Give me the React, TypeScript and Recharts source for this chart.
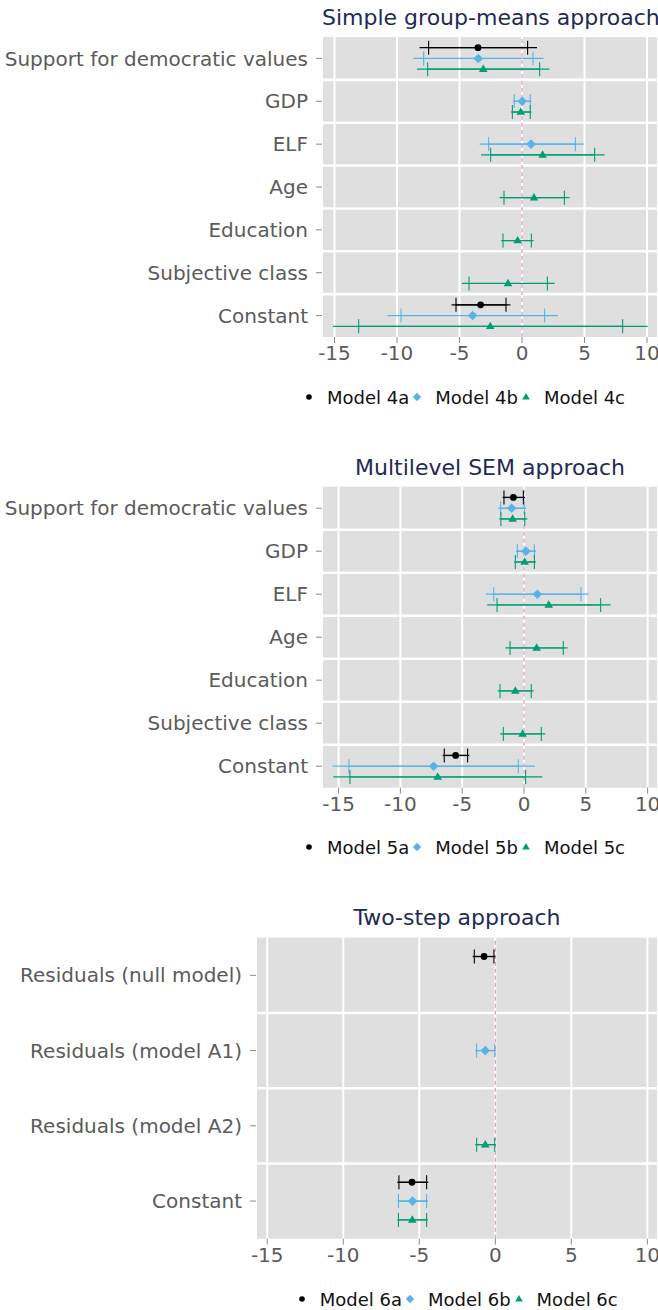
import React from "react";
import { ScatterChart, Scatter, XAxis, YAxis, CartesianGrid, ReferenceLine, ErrorBar, Legend } from "recharts";

const FONT = "'DejaVu Sans', sans-serif";
const TEXT = "#5b5b5b";
const TITLE = "#1f2a55";

const BLACK = "#000000";
const BLUE = "#56B4E9";
const GREEN = "#009E73";

const xTicks = [-15, -10, -5, 0, 5, 10];

// estimate with inner (ticked) and outer interval
type Est = { term: string; est: number; lo90: number; hi90: number; lo95: number; hi95: number };

const groupTerms = [
  "Support for democratic values",
  "GDP",
  "ELF",
  "Age",
  "Education",
  "Subjective class",
  "Constant",
];

const model4a: Est[] = [
  { term: "Support for democratic values", est: -3.52, lo90: -7.47, hi90: 0.45, lo95: -8.2, hi95: 1.2 },
  { term: "Constant", est: -3.31, lo90: -5.28, hi90: -1.28, lo95: -5.63, hi95: -0.93 },
];
const model4b: Est[] = [
  { term: "Support for democratic values", est: -3.5, lo90: -7.87, hi90: 0.88, lo95: -8.67, hi95: 1.73 },
  { term: "GDP", est: 0.02, lo90: -0.62, hi90: 0.66, lo95: -0.72, hi95: 0.74 },
  { term: "ELF", est: 0.72, lo90: -2.67, hi90: 4.27, lo95: -3.39, hi95: 4.93 },
  { term: "Constant", est: -3.95, lo90: -9.68, hi90: 1.81, lo95: -10.78, hi95: 2.88 },
];
const model4c: Est[] = [
  { term: "Support for democratic values", est: -3.1, lo90: -7.55, hi90: 1.41, lo95: -8.4, hi95: 2.2 },
  { term: "GDP", est: -0.1, lo90: -0.77, hi90: 0.66, lo95: -0.88, hi95: 0.77 },
  { term: "ELF", est: 1.65, lo90: -2.51, hi90: 5.81, lo95: -3.28, hi95: 6.61 },
  { term: "Age", est: 0.96, lo90: -1.44, hi90: 3.39, lo95: -1.81, hi95: 3.81 },
  { term: "Education", est: -0.35, lo90: -1.52, hi90: 0.75, lo95: -1.66, hi95: 0.93 },
  { term: "Subjective class", est: -1.12, lo90: -4.24, hi90: 2.03, lo95: -4.8, hi95: 2.61 },
  { term: "Constant", est: -2.54, lo90: -13.07, hi90: 8.05, lo95: -15.12, hi95: 10.05 },
];

const model5a: Est[] = [
  { term: "Support for democratic values", est: -0.86, lo90: -1.62, hi90: -0.05, lo95: -1.73, hi95: 0.08 },
  { term: "Constant", est: -5.53, lo90: -6.45, hi90: -4.56, lo95: -6.58, hi95: -4.42 },
];
const model5b: Est[] = [
  { term: "Support for democratic values", est: -1.0, lo90: -1.89, hi90: 0.03, lo95: -2.08, hi95: 0.16 },
  { term: "GDP", est: 0.16, lo90: -0.54, hi90: 0.84, lo95: -0.65, hi95: 0.97 },
  { term: "ELF", est: 1.08, lo90: -2.45, hi90: 4.61, lo95: -3.07, hi95: 5.23 },
  { term: "Constant", est: -7.31, lo90: -14.16, hi90: -0.46, lo95: -15.48, hi95: 0.89 },
];
const model5c: Est[] = [
  { term: "Support for democratic values", est: -0.92, lo90: -1.87, hi90: 0.06, lo95: -2.0, hi95: 0.27 },
  { term: "GDP", est: 0.05, lo90: -0.7, hi90: 0.84, lo95: -0.81, hi95: 0.97 },
  { term: "ELF", est: 2.0, lo90: -2.18, hi90: 6.2, lo95: -2.97, hi95: 7.01 },
  { term: "Age", est: 1.02, lo90: -1.13, hi90: 3.18, lo95: -1.51, hi95: 3.53 },
  { term: "Education", est: -0.7, lo90: -1.94, hi90: 0.59, lo95: -2.13, hi95: 0.78 },
  { term: "Subjective class", est: -0.11, lo90: -1.67, hi90: 1.4, lo95: -1.94, hi95: 1.73 },
  { term: "Constant", est: -6.98, lo90: -14.08, hi90: 0.13, lo95: -15.43, hi95: 1.48 },
];

const twoStepTerms = ["Residuals (null model)", "Residuals (model A1)", "Residuals (model A2)", "Constant"];

const model6a: Est[] = [
  { term: "Residuals (null model)", est: -0.74, lo90: -1.38, hi90: -0.09, lo95: -1.49, hi95: 0.0 },
  { term: "Constant", est: -5.48, lo90: -6.34, hi90: -4.52, lo95: -6.45, hi95: -4.41 },
];
const model6b: Est[] = [
  { term: "Residuals (model A1)", est: -0.66, lo90: -1.23, hi90: -0.04, lo95: -1.32, hi95: 0.05 },
  { term: "Constant", est: -5.44, lo90: -6.37, hi90: -4.52, lo95: -6.43, hi95: -4.43 },
];
const model6c: Est[] = [
  { term: "Residuals (model A2)", est: -0.66, lo90: -1.23, hi90: -0.04, lo95: -1.32, hi95: 0.05 },
  { term: "Constant", est: -5.46, lo90: -6.37, hi90: -4.52, lo95: -6.43, hi95: -4.43 },
];

type Shape = "circle" | "diamond" | "triangle";
type Model = { name: string; color: string; shape: Shape; rows: Est[] };

const dodge = [-0.25, 0, 0.25];

function toPoints(rows: Est[], terms: string[], off: number) {
  return rows.map((r) => ({
    x: r.est,
    y: terms.indexOf(r.term) + off,
    e95: [r.est - r.lo95, r.hi95 - r.est],
    e90: [r.est - r.lo90, r.hi90 - r.est],
  }));
}

function marker(shape: Shape, color: string) {
  return (p: any) => {
    const { cx, cy } = p;
    if (cx == null || cy == null) return <g />;
    if (shape === "circle") return <circle cx={cx} cy={cy} r={3.4} fill={color} />;
    if (shape === "diamond")
      return <polygon points={`${cx},${cy - 4.8} ${cx + 4.8},${cy} ${cx},${cy + 4.8} ${cx - 4.8},${cy}`} fill={color} />;
    return <polygon points={`${cx},${cy - 4.6} ${cx + 4.3},${cy + 2.8} ${cx - 4.3},${cy + 2.8}`} fill={color} />;
  };
}

function LegendIcon({ shape, color }: { shape: Shape; color: string }) {
  return (
    <svg width={16} height={16} style={{ display: "block" }}>
      {shape === "circle" && <circle cx={8} cy={8} r={2.8} fill={color} />}
      {shape === "diamond" && <polygon points="8,3.8 12.2,8 8,12.2 3.8,8" fill={color} />}
      {shape === "triangle" && <polygon points="8,4 11.8,10.6 4.2,10.6" fill={color} />}
    </svg>
  );
}

type PanelProps = {
  title: string;
  terms: string[];
  models: Model[];
  domain: [number, number];
  yWidth: number;
  top: number;
  plotTop: number;
  plotBottom: number;
  legendLeft: number;
  legendY: number;
};

const H = 410;
const XH = 30;

function Panel({ title, terms, models, domain, yWidth, top, plotTop, plotBottom, legendLeft, legendY }: PanelProps) {
  const n = terms.length;
  const bounds = terms.slice(1).map((_, i) => i + 0.5);
  return (
    <div style={{ position: "absolute", left: 0, top, width: 658, height: H }}>
      <div
        style={{
          position: "absolute",
          left: yWidth,
          width: 658 - yWidth,
          top: 7.4,
          textAlign: "center",
          fontFamily: FONT,
          fontSize: 22,
          lineHeight: "22px",
          color: TITLE,
          whiteSpace: "nowrap",
        }}
      >
        {title}
      </div>
      <ScatterChart
        width={658}
        height={H}
        margin={{ top: plotTop, right: 0, left: 0, bottom: H - XH - plotBottom }}
      >
        <CartesianGrid horizontal={false} stroke="#ffffff" strokeWidth={2} fill="#dfdfdf" />
        <XAxis
          type="number"
          dataKey="x"
          domain={domain}
          allowDataOverflow
          ticks={xTicks}
          height={XH}
          axisLine={false}
          tickSize={6}
          tickMargin={3}
          tickLine={{ stroke: "#8a8a8a" }}
          tick={{ fill: TEXT, fontSize: 20, fontFamily: FONT }}
        />
        <YAxis
          type="number"
          dataKey="y"
          domain={[-0.5, n - 0.5]}
          reversed
          allowDataOverflow
          ticks={terms.map((_, i) => i)}
          interval={0}
          tickFormatter={(v: number) => terms[v] ?? ""}
          width={yWidth}
          axisLine={false}
          tickSize={6}
          tickMargin={8}
          tickLine={{ stroke: "#8a8a8a" }}
          tick={{ fill: TEXT, fontSize: 20, fontFamily: FONT }}
        />
        {bounds.map((b) => (
          <ReferenceLine key={b} y={b} stroke="#ffffff" strokeWidth={2.6} />
        ))}
        <ReferenceLine x={0} stroke="#d8a2c4" strokeWidth={1.3} strokeDasharray="4 3" />
        {models.map((m, i) => (
          <Scatter
            key={m.name}
            name={m.name}
            data={toPoints(m.rows, terms, dodge[i])}
            shape={marker(m.shape, m.color)}
            isAnimationActive={false}
          >
            <ErrorBar dataKey="e95" direction="x" width={0} stroke={m.color} strokeWidth={1.3} />
            <ErrorBar dataKey="e90" direction="x" width={7} stroke={m.color} strokeWidth={1.1} />
          </Scatter>
        ))}
        <Legend
          layout="horizontal"
          verticalAlign="middle"
          align="center"
          wrapperStyle={{ left: legendLeft, top: legendY - 11, width: "auto" }}
          content={() => (
            <div style={{ display: "flex", alignItems: "center", height: 22, fontFamily: FONT, fontSize: 18, color: "#111" }}>
              {models.map((m) => (
                <div key={m.name} style={{ display: "flex", alignItems: "center" }}>
                  <LegendIcon shape={m.shape} color={m.color} />
                  <span style={{ marginLeft: 10, whiteSpace: "nowrap" }}>{m.name}</span>
                </div>
              ))}
            </div>
          )}
        />
      </ScatterChart>
    </div>
  );
}

export default function App() {
  return (
    <div style={{ position: "absolute", left: 0, top: 0, width: 658, height: 1310, overflow: "hidden", background: "#fff" }}>
      <Panel
        title="Simple group-means approach"
        terms={groupTerms}
        models={[
          { name: "Model 4a", color: BLACK, shape: "circle", rows: model4a },
          { name: "Model 4b", color: BLUE, shape: "diamond", rows: model4b },
          { name: "Model 4c", color: GREEN, shape: "triangle", rows: model4c },
        ]}
        domain={[-16, 10.88]}
        yWidth={322}
        top={0}
        plotTop={37}
        plotBottom={337}
        legendLeft={301}
        legendY={397}
      />
      <Panel
        title="Multilevel SEM approach"
        terms={groupTerms}
        models={[
          { name: "Model 5a", color: BLACK, shape: "circle", rows: model5a },
          { name: "Model 5b", color: BLUE, shape: "diamond", rows: model5b },
          { name: "Model 5c", color: GREEN, shape: "triangle", rows: model5c },
        ]}
        domain={[-16.34, 10.84]}
        yWidth={322}
        top={450}
        plotTop={36.7}
        plotBottom={337.7}
        legendLeft={301}
        legendY={397}
      />
      <Panel
        title="Two-step approach"
        terms={twoStepTerms}
        models={[
          { name: "Model 6a", color: BLACK, shape: "circle", rows: model6a },
          { name: "Model 6b", color: BLUE, shape: "diamond", rows: model6b },
          { name: "Model 6c", color: GREEN, shape: "triangle", rows: model6c },
        ]}
        domain={[-15.74, 10.7]}
        yWidth={256}
        top={900}
        plotTop={37.7}
        plotBottom={338.7}
        legendLeft={293.7}
        legendY={399}
      />
    </div>
  );
}
